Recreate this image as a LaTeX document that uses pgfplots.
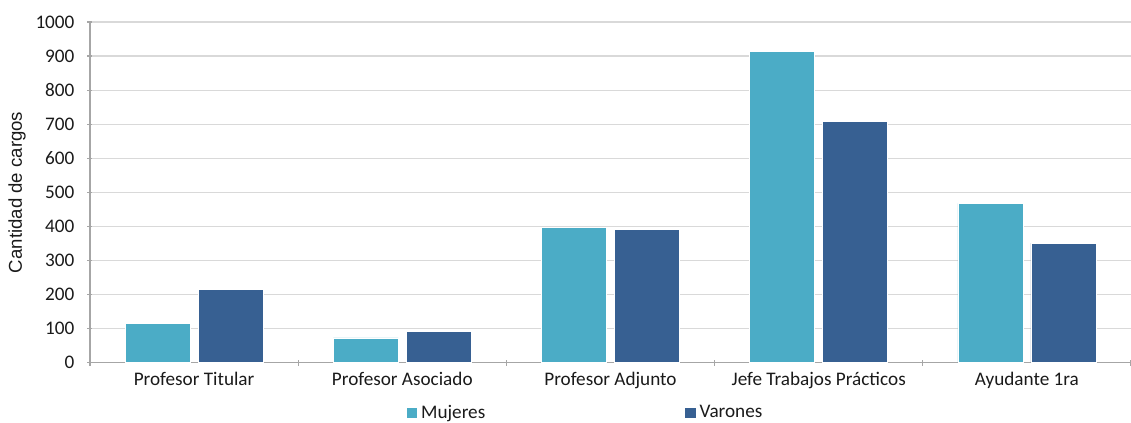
\documentclass[border=0pt]{standalone}
\usepackage{fontspec}
\setmainfont{Carlito}
\newfontfamily\arialf{Liberation Sans}
\usepackage{pgfplots}
\pgfplotsset{compat=1.18}
\definecolor{muj}{HTML}{4BACC6}
\definecolor{var}{HTML}{376092}
\definecolor{gridc}{HTML}{D9D9D9}
\definecolor{axc}{HTML}{A6A6A6}
\definecolor{txt}{HTML}{1A1A1A}
\pgfplotsset{sqlegend/.style={legend image code/.code={\fill[##1,draw=none] (0pt,-2.6pt) rectangle (5.2pt,2.6pt);}}}
\begin{document}
\begin{tikzpicture}
\useasboundingbox (-45pt,-30.15pt) rectangle (520.5pt,181.35pt);
\begin{axis}[
  at={(0,0)}, anchor=south west,
  scale only axis, width=520.5pt, height=170.35pt,
  ybar=4pt, bar width=32.5pt,
  xmin=-0.5, xmax=4.5, ymin=0, ymax=1000,
  ytick={0,100,...,1000},
  xtick={0,...,4},
  xticklabels={Profesor Titular,Profesor Asociado,Profesor Adjunto,Jefe Trabajos Prácticos,Ayudante 1ra},
  minor xtick={-0.5,0.5,...,4.5},
  major x tick style={draw=none},
  minor tick length=3pt,
  major tick length=2.5pt,
  tick align=outside,
  tick style={axc, line width=0.6pt},
  axis lines=left,
  axis line style={-, draw=axc, line width=0.6pt},
  ymajorgrids, grid style={gridc, line width=0.6pt},
  /pgf/number format/assume math mode=true,
  /pgf/number format/1000 sep={},
  ticklabel style={font=\fontsize{9.6}{11}\selectfont, text=txt},
  yticklabel style={xshift=-3pt},
  ylabel={\arialf Cantidad de cargos},
  ylabel style={font=\fontsize{9.3}{11}\selectfont, text=txt, yshift=-2pt},
  legend style={at={(0.477,-0.148)}, anchor=center, draw=none, fill=none,
    legend columns=2, font=\fontsize{9.6}{11}\selectfont, text=txt,
    /tikz/every even column/.append style={column sep=98pt}},
  legend cell align=left,
]
\addplot[fill=muj, draw=white, line width=0.3pt, sqlegend] coordinates {(0,116) (1,73) (2,398) (3,914) (4,468)};
\addplot[fill=var, draw=white, line width=0.3pt, sqlegend] coordinates {(0,216) (1,93) (2,391) (3,709) (4,351)};
\legend{Mujeres,Varones}
\end{axis}
\end{tikzpicture}
\end{document}
